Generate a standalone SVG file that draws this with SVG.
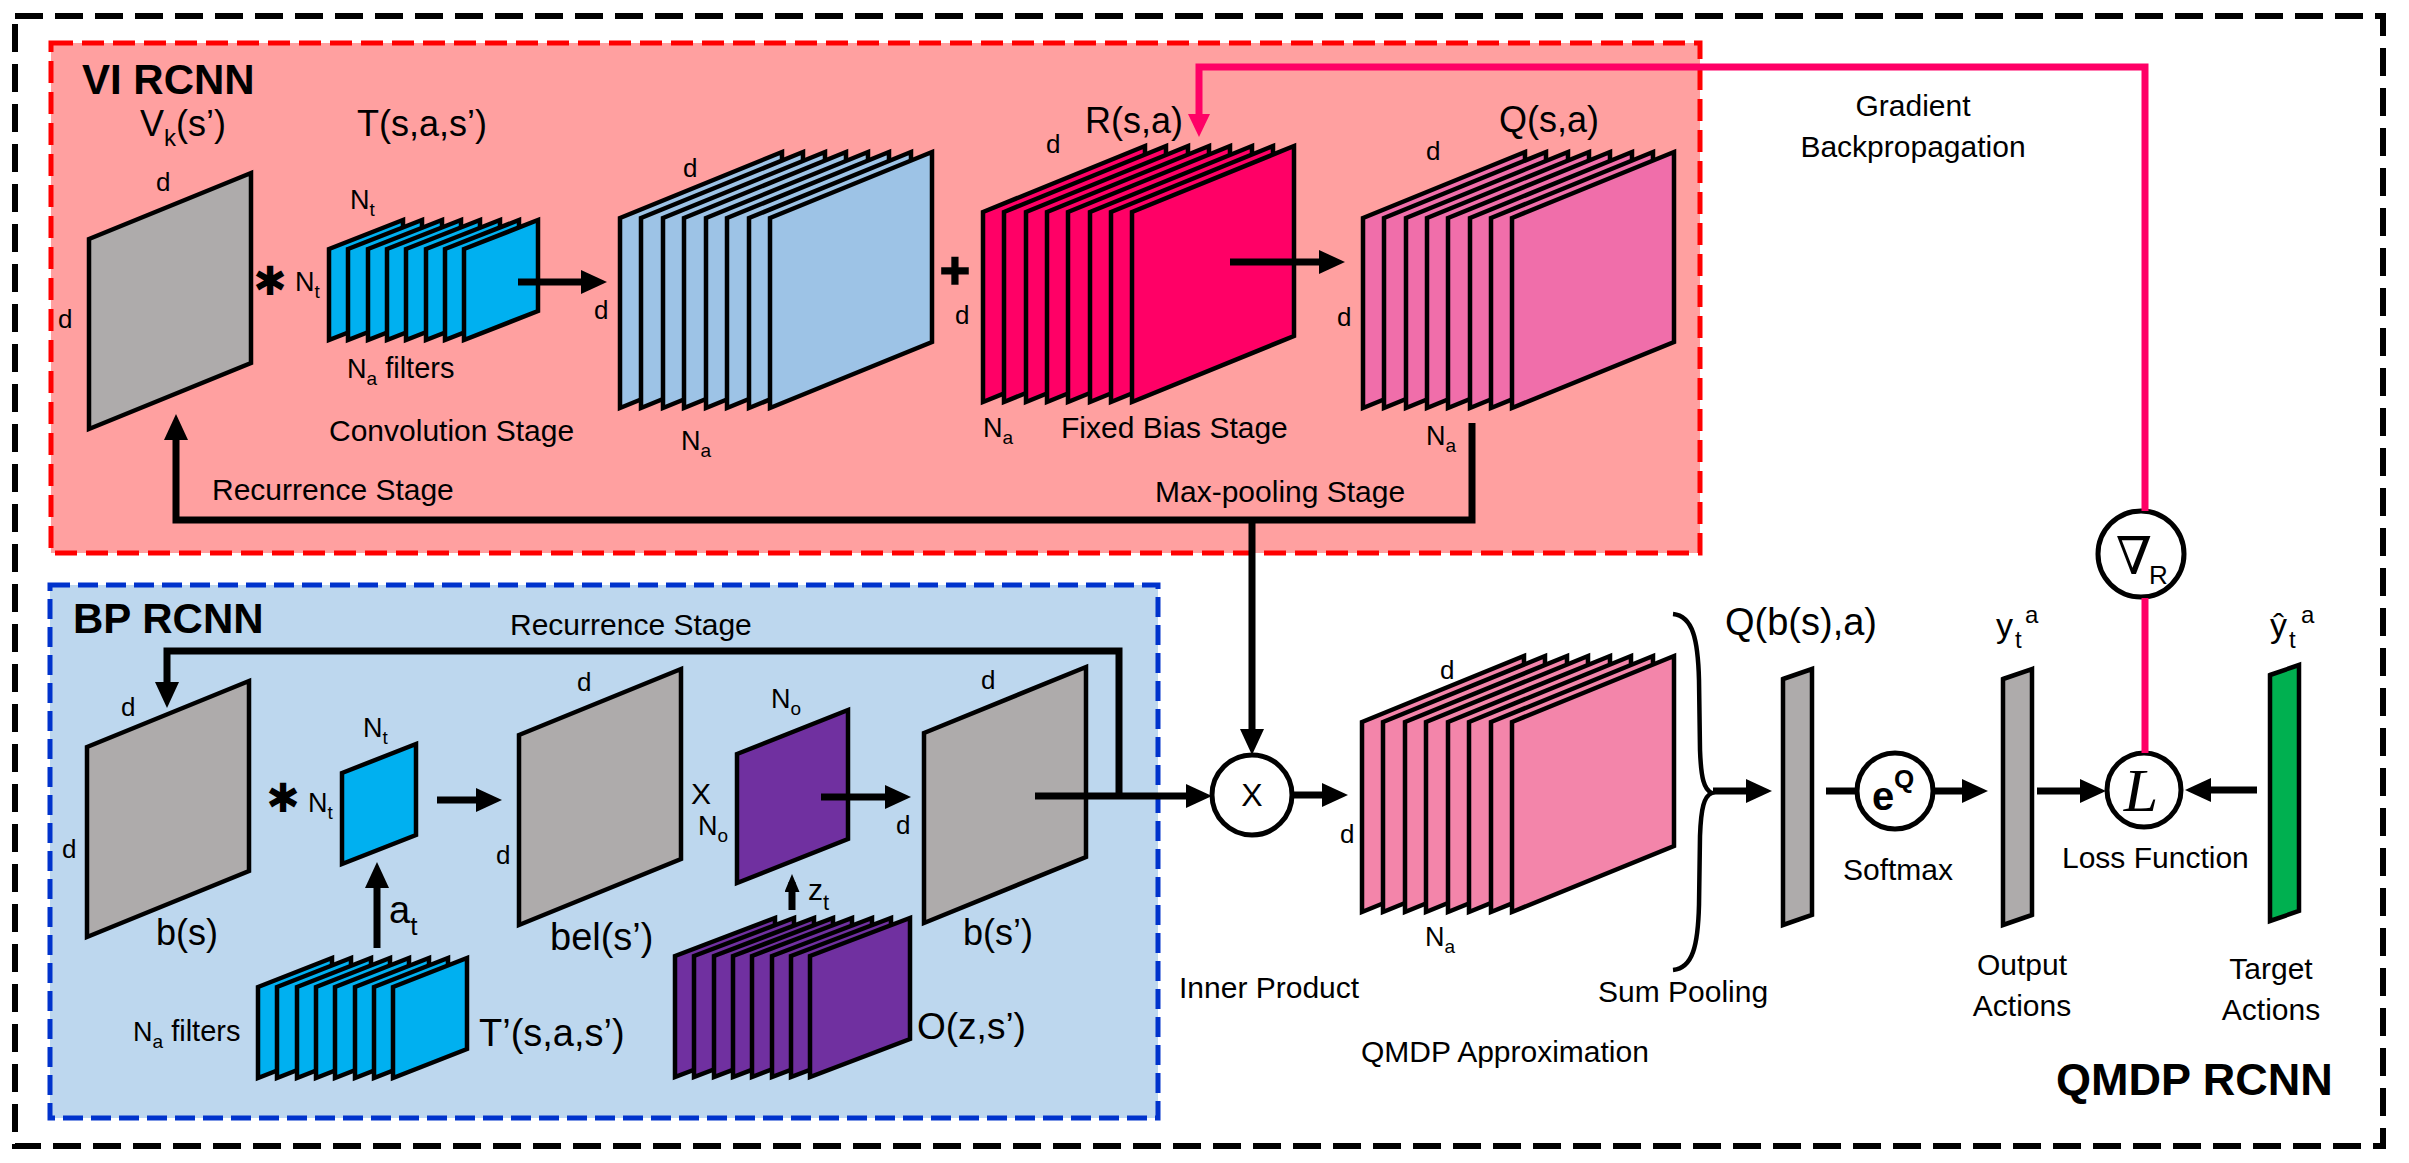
<svg xmlns="http://www.w3.org/2000/svg" xmlns:xlink="http://www.w3.org/1999/xlink" width="2409" height="1163" viewBox="0 0 2409 1163">
<style>
.t{font-family:"Liberation Sans",Arial,sans-serif;fill:#000}
.b{font-weight:bold}
.m{font-size:36px}
.s{font-size:30px}
.d{font-size:26px}
.n{font-size:27px}
.ast{font-family:"DejaVu Sans",sans-serif;font-size:40px;fill:#000}
use,.shp{stroke:#000;stroke-width:4.5;stroke-linejoin:miter}
.gray{fill:#AEABAB}
.lb{fill:#9DC3E6}
.cy{fill:#00B0F0}
.rd{fill:#FF0066}
.qp{fill:#F06EAA}
.pu{fill:#7030A0}
.qm{fill:#F385AA}
.gr{fill:#00B050}
.con{fill:none;stroke:#000;stroke-width:7;stroke-linejoin:miter}
.arr{marker-end:url(#ah)}
.pink{fill:none;stroke:#FF0066;stroke-width:7}
.circ{fill:#fff;stroke:#000;stroke-width:5}
</style>
<defs>
<polygon id="big" points="0,0 162,-66 162,124 0,190"/>
<polygon id="sm" points="0,0 74,-29 74,62 0,91"/>
<polygon id="pp" points="0,0 111,-44 111,85 0,129"/>
<polygon id="os" points="0,0 100,-38 100,83 0,121"/>
<polygon id="bar" points="0,0 29,-10 29,236 0,246"/>
<marker id="ah" markerUnits="userSpaceOnUse" markerWidth="26" markerHeight="24" viewBox="0 0 26 24" refX="16" refY="12" orient="auto"><path d="M0,0 L26,12 L0,24 z" fill="#000"/></marker>
<marker id="ahs" markerUnits="userSpaceOnUse" markerWidth="18" markerHeight="15" viewBox="0 0 18 15" refX="10" refY="7.5" orient="auto"><path d="M0,0 L18,7.5 L0,15 z" fill="#000"/></marker>
<marker id="ahp" markerUnits="userSpaceOnUse" markerWidth="23" markerHeight="22" viewBox="0 0 23 22" refX="14" refY="11" orient="auto"><path d="M0,0 L23,11 L0,22 z" fill="#FF0066"/></marker>
</defs>

<g id="panels">
<rect x="15" y="16" width="2368" height="1130" fill="#fff" stroke="#000" stroke-width="6" stroke-dasharray="28 12"/>
<rect id="vi-panel" x="51" y="43" width="1649" height="510" fill="#FFA0A0" stroke="#FF0000" stroke-width="5" stroke-dasharray="22 9"/>
<rect id="bp-panel" x="50" y="585" width="1108" height="533" fill="#BDD7EE" stroke="#0033CC" stroke-width="5" stroke-dasharray="20 8"/>
<text class="t b" x="82" y="94" font-size="42">VI RCNN</text>
<text class="t b" x="73" y="633" font-size="42">BP RCNN</text>
<text class="t b" x="2056" y="1095" font-size="45">QMDP RCNN</text>
</g>

<g id="node-vk">
<use href="#big" x="89" y="239" class="gray"/>
<text class="t m" x="140" y="136">V<tspan font-size="24" dy="10">k</tspan><tspan dy="-10">(s’)</tspan></text>
<text class="t d" x="156" y="191">d</text>
<text class="t d" x="58" y="328">d</text>
</g>

<g id="node-conv-op">
<text class="ast" x="270" y="295" text-anchor="middle">✱</text>
</g>

<g id="node-t">
<use href="#sm" x="329" y="249" class="cy"/>
<use href="#sm" x="348" y="249" class="cy"/>
<use href="#sm" x="368" y="249" class="cy"/>
<use href="#sm" x="387" y="249" class="cy"/>
<use href="#sm" x="406" y="249" class="cy"/>
<use href="#sm" x="426" y="249" class="cy"/>
<use href="#sm" x="445" y="249" class="cy"/>
<use href="#sm" x="464" y="249" class="cy"/>
<text class="t m" x="357" y="136">T(s,a,s’)</text>
<text class="t n" x="295" y="291">N<tspan font-size="19" dy="7">t</tspan></text>
<text class="t n" x="350" y="209">N<tspan font-size="19" dy="7">t</tspan></text>
<text class="t n" x="347" y="378">N<tspan font-size="19" dy="7">a</tspan><tspan dy="-7" font-size="29"> filters</tspan></text>
<text class="t s" x="329" y="441">Convolution Stage</text>
</g>

<g id="node-conv-out">
<use href="#big" x="620" y="218" class="lb"/>
<use href="#big" x="641" y="218" class="lb"/>
<use href="#big" x="663" y="218" class="lb"/>
<use href="#big" x="684" y="218" class="lb"/>
<use href="#big" x="706" y="218" class="lb"/>
<use href="#big" x="727" y="218" class="lb"/>
<use href="#big" x="749" y="218" class="lb"/>
<use href="#big" x="770" y="218" class="lb"/>
<text class="t d" x="683" y="177">d</text>
<text class="t d" x="594" y="319">d</text>
<text class="t n" x="681" y="450">N<tspan font-size="19" dy="7">a</tspan></text>
</g>

<g id="node-plus">
<text class="t b" x="955" y="288" font-size="52" text-anchor="middle" stroke="#000" stroke-width="1.5">+</text>
</g>

<g id="node-r">
<use href="#big" x="983" y="212" class="rd"/>
<use href="#big" x="1004" y="212" class="rd"/>
<use href="#big" x="1026" y="212" class="rd"/>
<use href="#big" x="1047" y="212" class="rd"/>
<use href="#big" x="1068" y="212" class="rd"/>
<use href="#big" x="1090" y="212" class="rd"/>
<use href="#big" x="1111" y="212" class="rd"/>
<use href="#big" x="1132" y="212" class="rd"/>
<text class="t m" x="1085" y="133">R(s,a)</text>
<text class="t d" x="1046" y="153">d</text>
<text class="t d" x="955" y="324">d</text>
<text class="t n" x="983" y="437">N<tspan font-size="19" dy="7">a</tspan></text>
<text class="t s" x="1061" y="438">Fixed Bias Stage</text>
</g>

<g id="node-q">
<use href="#big" x="1363" y="218" class="qp"/>
<use href="#big" x="1384" y="218" class="qp"/>
<use href="#big" x="1406" y="218" class="qp"/>
<use href="#big" x="1427" y="218" class="qp"/>
<use href="#big" x="1448" y="218" class="qp"/>
<use href="#big" x="1470" y="218" class="qp"/>
<use href="#big" x="1491" y="218" class="qp"/>
<use href="#big" x="1512" y="218" class="qp"/>
<text class="t m" x="1499" y="132">Q(s,a)</text>
<text class="t d" x="1426" y="160">d</text>
<text class="t d" x="1337" y="326">d</text>
<text class="t n" x="1426" y="445">N<tspan font-size="19" dy="7">a</tspan></text>
</g>

<g id="node-bs">
<use href="#big" x="87" y="747" class="gray"/>
<text class="t d" x="121" y="716">d</text>
<text class="t d" x="62" y="858">d</text>
<text class="t m" x="156" y="945">b(s)</text>
<text class="ast" x="283" y="812" text-anchor="middle">✱</text>
</g>

<g id="node-tprime">
<use href="#sm" x="342" y="773" class="cy"/>
<text class="t n" x="308" y="812">N<tspan font-size="19" dy="7">t</tspan></text>
<text class="t n" x="363" y="737">N<tspan font-size="19" dy="7">t</tspan></text>
<text class="t" x="389" y="923" font-size="38">a<tspan font-size="26" dy="12">t</tspan></text>
<use href="#sm" x="258" y="987" class="cy"/>
<use href="#sm" x="277" y="987" class="cy"/>
<use href="#sm" x="297" y="987" class="cy"/>
<use href="#sm" x="316" y="987" class="cy"/>
<use href="#sm" x="335" y="987" class="cy"/>
<use href="#sm" x="355" y="987" class="cy"/>
<use href="#sm" x="374" y="987" class="cy"/>
<use href="#sm" x="393" y="987" class="cy"/>
<text class="t n" x="133" y="1041">N<tspan font-size="19" dy="7">a</tspan><tspan dy="-7" font-size="29"> filters</tspan></text>
<text class="t" x="479" y="1046" font-size="38">T’(s,a,s’)</text>
</g>

<g id="node-bel">
<use href="#big" x="519" y="735" class="gray"/>
<text class="t d" x="577" y="691">d</text>
<text class="t d" x="496" y="864">d</text>
<text class="t" x="550" y="950" font-size="38">bel(s’)</text>
<text class="t" x="701" y="804" font-size="30" text-anchor="middle">X</text>
</g>

<g id="node-obs">
<use href="#pp" x="737" y="754" class="pu"/>
<text class="t n" x="698" y="835">N<tspan font-size="19" dy="7">o</tspan></text>
<text class="t n" x="771" y="708">N<tspan font-size="19" dy="7">o</tspan></text>
<text class="t" x="808" y="900" font-size="30">z<tspan font-size="22" dy="10">t</tspan></text>
<use href="#os" x="675" y="956" class="pu"/>
<use href="#os" x="694" y="956" class="pu"/>
<use href="#os" x="714" y="956" class="pu"/>
<use href="#os" x="733" y="956" class="pu"/>
<use href="#os" x="752" y="956" class="pu"/>
<use href="#os" x="772" y="956" class="pu"/>
<use href="#os" x="791" y="956" class="pu"/>
<use href="#os" x="810" y="956" class="pu"/>
<text class="t" x="917" y="1039" font-size="37">O(z,s’)</text>
</g>

<g id="node-bsprime">
<use href="#big" x="924" y="733" class="gray"/>
<text class="t d" x="981" y="689">d</text>
<text class="t d" x="896" y="834">d</text>
<text class="t m" x="963" y="945">b(s’)</text>
</g>

<g id="node-inner">
<circle class="circ" cx="1252" cy="795" r="40"/>
<text class="t" x="1252" y="806" font-size="32" text-anchor="middle">X</text>
<text class="t s" x="1179" y="998">Inner Product</text>
</g>

<g id="node-qmdp">
<use href="#big" x="1362" y="722" class="qm"/>
<use href="#big" x="1383" y="722" class="qm"/>
<use href="#big" x="1405" y="722" class="qm"/>
<use href="#big" x="1426" y="722" class="qm"/>
<use href="#big" x="1448" y="722" class="qm"/>
<use href="#big" x="1469" y="722" class="qm"/>
<use href="#big" x="1491" y="722" class="qm"/>
<use href="#big" x="1512" y="722" class="qm"/>
<text class="t d" x="1440" y="679">d</text>
<text class="t d" x="1340" y="843">d</text>
<text class="t n" x="1425" y="946">N<tspan font-size="19" dy="7">a</tspan></text>
<path d="M1673,614 C1693,616 1698,640 1699,680 L1700,750 C1701,778 1704,790 1712,793 C1704,796 1701,808 1700,836 L1699,905 C1698,945 1693,968 1673,970" fill="none" stroke="#000" stroke-width="4.5"/>
<text class="t s" x="1598" y="1002">Sum Pooling</text>
<text class="t s" x="1361" y="1062">QMDP Approximation</text>
</g>

<g id="node-qb">
<use href="#bar" x="1783" y="679" class="gray"/>
<text class="t" x="1725" y="635" font-size="38">Q(b(s),a)</text>
</g>

<g id="node-softmax">
<circle class="circ" cx="1895" cy="791" r="38"/>
<text class="t b" x="1872" y="810" font-size="40">e</text>
<text class="t b" x="1894" y="788" font-size="26">Q</text>
<text class="t s" x="1843" y="880">Softmax</text>
</g>

<g id="node-y">
<use href="#bar" x="2003" y="679" class="gray"/>
<text class="t" x="1996" y="637" font-size="34">y</text>
<text class="t" x="2015" y="648" font-size="24">t</text>
<text class="t" x="2025" y="623" font-size="24">a</text>
<text class="t s" x="2022" y="975" text-anchor="middle">Output</text>
<text class="t s" x="2022" y="1016" text-anchor="middle">Actions</text>
</g>

<g id="node-loss">
<circle class="circ" cx="2144" cy="790" r="37"/>
<text x="2141" y="811" font-family="'Liberation Serif','Times New Roman',serif" font-style="italic" font-size="62" text-anchor="middle">L</text>
<text class="t s" x="2062" y="868">Loss Function</text>
</g>

<g id="node-grad">
<circle class="circ" cx="2141" cy="554" r="43"/>
<text x="2134" y="574" font-family="'Liberation Serif','DejaVu Serif',serif" font-weight="normal" font-size="52" text-anchor="middle">∇</text>
<text class="t" x="2149" y="584" font-size="26">R</text>
</g>

<g id="node-target">
<use href="#bar" x="2270" y="675" class="gr"/>
<text class="t" x="2270" y="637" font-size="34">ŷ</text>
<text class="t" x="2289" y="648" font-size="24">t</text>
<text class="t" x="2301" y="623" font-size="24">a</text>
<text class="t s" x="2271" y="979" text-anchor="middle">Target</text>
<text class="t s" x="2271" y="1020" text-anchor="middle">Actions</text>
</g>

<g id="connectors">
<path class="con arr" d="M518,282 H597"/>
<path class="con arr" d="M437,800 H492"/>
<path class="con arr" d="M821,797 H901"/>
<path class="con arr" d="M1230,262 H1335"/>
<path class="con arr" d="M1035,796 H1202"/>
<path class="con arr" d="M1472,423 V520 H176 V424"/>
<path class="con arr" d="M1252,520 V745"/>
<path class="con arr" d="M1292,795 H1338"/>
<path class="con arr" d="M1713,791 H1762"/>
<path class="con" d="M1826,791 H1857"/>
<path class="con arr" d="M1933,791 H1978"/>
<path class="con arr" d="M2037,791 H2096"/>
<path class="con arr" d="M2257,790 H2195"/>
<path class="con arr" d="M377,948 V872"/>
<path class="con" d="M792,910 V882" stroke-width="6" marker-end="url(#ahs)"/>
<path class="con arr" d="M1119,796 V651 H167 V698"/>
<path class="pink" d="M2145,511 V67 H1199 V128" marker-end="url(#ahp)"/>
<path class="pink" d="M2145,598 V753"/>
<text class="t s" x="212" y="500">Recurrence Stage</text>
<text class="t s" x="1155" y="502">Max-pooling Stage</text>
<text class="t s" x="510" y="635">Recurrence Stage</text>
<text class="t s" x="1913" y="116" text-anchor="middle">Gradient</text>
<text class="t s" x="1913" y="157" text-anchor="middle">Backpropagation</text>
</g>
</svg>
